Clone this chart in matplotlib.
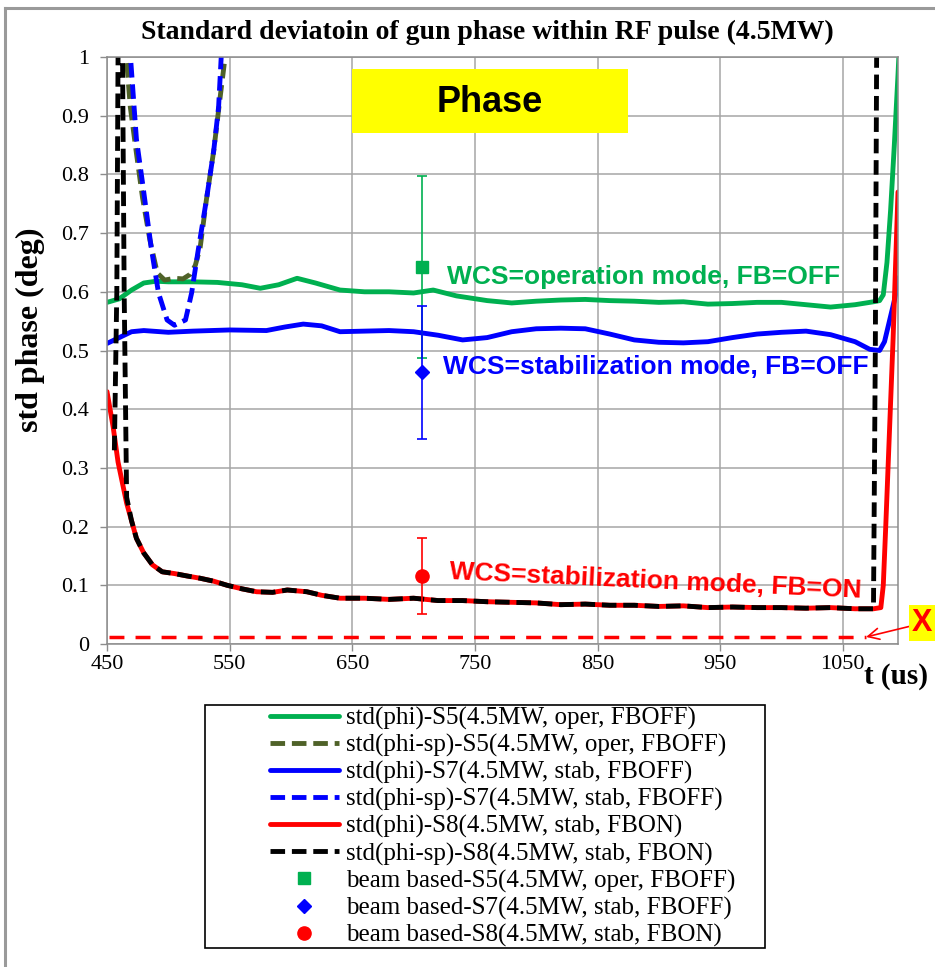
import matplotlib.pyplot as plt
from matplotlib.patches import Rectangle
from matplotlib.lines import Line2D

################################################################################
# data
################################################################################
# std(phi)-S5 (oper, FB off)
s5_t = [450, 460, 470, 480, 490, 500, 520, 540, 560, 575, 590, 605, 620, 640,
        660, 680, 700, 716, 735, 760, 780, 800, 820, 840, 860, 880, 900, 920,
        940, 960, 980, 1000, 1020, 1040, 1060, 1075, 1080, 1083, 1086, 1089,
        1092, 1095, 1098]
s5_v = [0.582, 0.588, 0.603, 0.615, 0.618, 0.617, 0.617, 0.616, 0.612, 0.606,
        0.612, 0.623, 0.615, 0.603, 0.600, 0.600, 0.598, 0.603, 0.593, 0.585,
        0.581, 0.584, 0.586, 0.587, 0.585, 0.584, 0.582, 0.583, 0.579, 0.580,
        0.582, 0.582, 0.578, 0.574, 0.578, 0.583, 0.585, 0.595, 0.65, 0.74,
        0.85, 0.97, 1.1]

# std(phi-sp)-S5
s5sp_t = [462, 465, 469, 474, 479, 485, 491, 497, 505, 512, 518, 522, 526,
          531, 537, 542, 546, 549]
s5sp_v = [1.2, 1.02, 0.915, 0.836, 0.76, 0.688, 0.632, 0.62, 0.623, 0.622,
          0.63, 0.645, 0.676, 0.756, 0.84, 0.927, 0.995, 1.05]

# std(phi)-S7 (stab, FB off)
s7_t = [450, 460, 470, 480, 500, 520, 550, 580, 595, 610, 625, 640, 660, 680,
        700, 720, 740, 760, 780, 800, 820, 840, 860, 880, 900, 920, 940, 960,
        980, 1000, 1020, 1040, 1060, 1072, 1080, 1084, 1088, 1092, 1096]
s7_v = [0.512, 0.522, 0.532, 0.534, 0.531, 0.533, 0.535, 0.534, 0.540, 0.545,
        0.542, 0.532, 0.533, 0.534, 0.532, 0.526, 0.518, 0.522, 0.532, 0.537,
        0.538, 0.537, 0.528, 0.518, 0.514, 0.513, 0.515, 0.522, 0.528, 0.531,
        0.533, 0.527, 0.515, 0.502, 0.500, 0.515, 0.55, 0.585, 0.625]

# std(phi-sp)-S7
s7sp_t = [466, 469.5, 474, 479, 486, 492, 499, 505, 514, 519, 524, 531, 537,
          541, 543, 546]
s7sp_v = [1.1, 0.99, 0.86, 0.785, 0.676, 0.598, 0.552, 0.543, 0.552, 0.598,
          0.666, 0.756, 0.84, 0.915, 0.995, 1.1]

# std(phi)-S8 (stab, FB on)
s8_t = [450, 455, 459, 463, 466, 470, 474, 480, 487, 495, 505, 515, 526, 537,
        548, 560, 572, 585, 597, 613, 625, 640, 660, 680, 700, 720, 740, 760,
        780, 800, 820, 840, 860, 880, 900, 920, 940, 960, 980, 1000, 1020,
        1040, 1060, 1075, 1081, 1083, 1085, 1088, 1091, 1095]
s8_v = [0.43, 0.37, 0.31, 0.27, 0.24, 0.21, 0.18, 0.155, 0.135, 0.123, 0.12,
        0.116, 0.112, 0.107, 0.10, 0.094, 0.089, 0.088, 0.092, 0.089, 0.083,
        0.078, 0.078, 0.076, 0.078, 0.074, 0.074, 0.072, 0.071, 0.070, 0.067,
        0.068, 0.066, 0.066, 0.064, 0.065, 0.062, 0.063, 0.062, 0.062, 0.061,
        0.062, 0.060, 0.060, 0.062, 0.10, 0.20, 0.36, 0.52, 0.77]

# std(phi-sp)-S8
s8sp_t = [456, 458, 459.5, 462, 464, 466, 470, 474, 480, 487, 495, 505, 515,
          526, 537, 548, 560, 572, 585, 597, 613, 625, 640, 660, 680, 700, 720,
          740, 760, 780, 800, 820, 840, 860, 880, 900, 920, 940, 960, 980,
          1000, 1020, 1040, 1060, 1075, 1076.5, 1078]
s8sp_v = [0.33, 0.6, 1.2, 1.2, 0.6, 0.25, 0.21, 0.18, 0.155, 0.135, 0.123,
          0.12, 0.116, 0.112, 0.107, 0.10, 0.094, 0.089, 0.088, 0.092, 0.089,
          0.083, 0.078, 0.078, 0.076, 0.078, 0.074, 0.074, 0.072, 0.071, 0.070,
          0.067, 0.068, 0.066, 0.066, 0.064, 0.065, 0.062, 0.063, 0.062, 0.062,
          0.061, 0.062, 0.060, 0.060, 0.5, 1.2]

# beam based measurements
beam_t = 707
beam_s5 = 0.642
beam_s5_err = 0.155
beam_s7 = 0.463
beam_s7_err = 0.113
beam_s8 = 0.116
beam_s8_err = 0.065

# red dashed level
limit_t = [452, 1069]
limit_v = [0.012, 0.012]

labels = ['std(phi)-S5(4.5MW, oper, FBOFF)',
          'std(phi-sp)-S5(4.5MW, oper, FBOFF)',
          'std(phi)-S7(4.5MW, stab, FBOFF)',
          'std(phi-sp)-S7(4.5MW, stab, FBOFF)',
          'std(phi)-S8(4.5MW, stab, FBON)',
          'std(phi-sp)-S8(4.5MW, stab, FBON)',
          'beam based-S5(4.5MW, oper, FBOFF)',
          'beam based-S7(4.5MW, stab, FBOFF)',
          'beam based-S8(4.5MW, stab, FBON)']

xticks = [450, 550, 650, 750, 850, 950, 1050]
yticks = [0, 0.1, 0.2, 0.3, 0.4, 0.5, 0.6, 0.7, 0.8, 0.9, 1]

################################################################################
# figure
################################################################################
plt.rcParams['font.family'] = ['Liberation Serif', 'DejaVu Serif']

GREEN = '#00B050'
OLIVE = '#4F6228'
BLUE = '#0000FF'
RED = '#FF0000'
GRID = '#A6A6A6'

W, H = 935, 967
fig = plt.figure(figsize=(W / 100, H / 100), dpi=100)
ax = fig.add_axes([107 / W, 1 - 644 / H, 791 / W, 587 / H])

lw = 3.5
dash = (3.0, 1.4)
handles = []
handles += ax.plot(s5_t, s5_v, color=GREEN, lw=lw, solid_capstyle='round')
handles += ax.plot(s5sp_t, s5sp_v, color=OLIVE, lw=lw, dashes=dash)
handles += ax.plot(s7_t, s7_v, color=BLUE, lw=lw, solid_capstyle='round')
handles += ax.plot(s7sp_t, s7sp_v, color=BLUE, lw=lw, dashes=dash)
handles += ax.plot(s8_t, s8_v, color=RED, lw=lw, solid_capstyle='round')
handles += ax.plot(s8sp_t, s8sp_v, color='black', lw=lw, dashes=dash)

ax.plot(limit_t, limit_v, color=RED, lw=2.5, dashes=(4.3, 3.2))

# beam based points with error bars
ax.errorbar([beam_t], [beam_s5], yerr=[beam_s5_err], fmt='none',
            ecolor=GREEN, elinewidth=1.2, capsize=3.5, capthick=1.2, zorder=5)
ax.errorbar([beam_t], [beam_s7], yerr=[beam_s7_err], fmt='none',
            ecolor=BLUE, elinewidth=1.2, capsize=3.5, capthick=1.2, zorder=5)
ax.errorbar([beam_t], [beam_s8], yerr=[beam_s8_err], fmt='none',
            ecolor=RED, elinewidth=1.2, capsize=3.5, capthick=1.2, zorder=5)
handles += ax.plot([beam_t], [beam_s5], ls='none', marker='s', ms=9,
                   color=GREEN, zorder=6)
handles += ax.plot([beam_t], [beam_s7], ls='none', marker='D', ms=7.5,
                   color=BLUE, zorder=6)
handles += ax.plot([beam_t], [beam_s8], ls='none', marker='o', ms=9.5,
                   color=RED, zorder=6)

ax.set_xlim(450, 1095)
ax.set_ylim(0, 1)
ax.set_xticks(xticks)
ax.set_yticks(yticks)
ax.set_yticklabels(['0', '0.1', '0.2', '0.3', '0.4', '0.5', '0.6', '0.7',
                    '0.8', '0.9', '1'])
ax.grid(True, color=GRID, lw=1.1)
ax.set_axisbelow(True)
for sp in ax.spines.values():
    sp.set_color('#8C8C8C')
    sp.set_linewidth(1.1)
ax.tick_params(axis='both', direction='out', length=5, width=1,
               color='#8C8C8C', labelsize=16)
ax.tick_params(axis='y', pad=8)
ax.tick_params(axis='x', pad=3)

# texts
fig.text(487 / W, 1 - 32 / H,
         'Standard deviatoin of gun phase within RF pulse (4.5MW)',
         ha='center', va='center', fontsize=20, fontweight='bold')
fig.text(30 / W, 1 - 330 / H, 'std phase (deg)', rotation=90,
         ha='center', va='center', fontsize=23, fontweight='bold')
fig.text(896 / W, 1 - 676 / H, 't (us)', ha='center', va='center',
         fontsize=21, fontweight='bold')

fig.add_artist(Rectangle((352 / W, 1 - 133 / H), 276 / W, 64 / H,
                         transform=fig.transFigure, facecolor='#FFFF00',
                         edgecolor='none', zorder=3))
fig.text(490 / W, 1 - 103 / H, 'Phase', ha='center', va='center',
         fontsize=26, fontweight='bold', family='Liberation Sans', zorder=4)

fig.text(447 / W, 1 - 277 / H, 'WCS=operation mode, FB=OFF', ha='left',
         va='center', fontsize=19, fontweight='bold',
         family='Liberation Sans', color=GREEN)
fig.text(443 / W, 1 - 367 / H, 'WCS=stabilization mode, FB=OFF', ha='left',
         va='center', fontsize=19, fontweight='bold',
         family='Liberation Sans', color=BLUE)
fig.text(655 / W, 1 - 581 / H, 'WCS=stabilization mode, FB=ON', ha='center',
         va='center', fontsize=19, fontweight='bold',
         family='Liberation Sans', color=RED, rotation=-2.6,
         rotation_mode='anchor')

# X marker with arrow
fig.text(922 / W, 1 - 623 / H, 'X', ha='center', va='center', fontsize=22,
         fontweight='bold', family='Liberation Sans', color=RED,
         bbox=dict(facecolor='#FFFF00', edgecolor='none', pad=2))
ax.annotate('', xy=(limit_t[-1], limit_v[-1]),
            xytext=(911 / W, 1 - 626 / H), textcoords='figure fraction',
            arrowprops=dict(arrowstyle='->', color=RED, lw=1.2,
                            mutation_scale=20, shrinkA=0, shrinkB=0),
            annotation_clip=False)

# legend with its own frame
leg = ax.legend(handles, labels, loc='upper left',
                bbox_to_anchor=(270 / W, 1 - 707 / H),
                bbox_transform=fig.transFigure, frameon=False, borderpad=0,
                borderaxespad=0, fontsize=18, handlelength=2.75,
                handletextpad=0.3, labelspacing=0.16)
fig.add_artist(Rectangle((205 / W, 1 - 948 / H), 560 / W, 243 / H,
                         transform=fig.transFigure, facecolor='none',
                         edgecolor='black', lw=1.2))

# outer grey frame
fig.add_artist(Line2D([5 / W, 5 / W], [0, 1 - 8 / H], color='#9A9A9A', lw=2.2,
                      transform=fig.transFigure))
fig.add_artist(Line2D([5 / W, 1], [1 - 8 / H, 1 - 8 / H], color='#9A9A9A',
                      lw=2.2, transform=fig.transFigure))

plt.savefig('out.png', dpi=100)
